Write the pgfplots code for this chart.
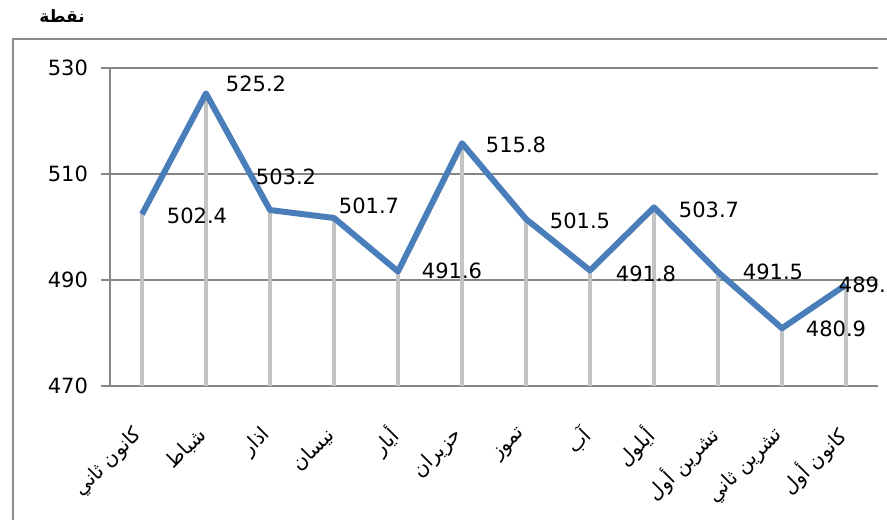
\documentclass[border=0pt]{standalone}
\usepackage{fontspec}
\setmainfont{DejaVu Sans}
\newfontfamily\arabicfont[Script=Arabic]{DejaVu Sans}
\usepackage{pgfplots}
\pgfplotsset{compat=1.18}
\usepackage{pgfplotstable}
\TeXXeTstate=1
\definecolor{lineblue}{RGB}{74,126,187}
\definecolor{gridgray}{RGB}{134,134,134}
\definecolor{dropgray}{RGB}{195,195,195}
\definecolor{framegray}{RGB}{140,140,140}

\pgfplotstableread{
x y e
0 502.4 32.4
1 525.2 55.2
2 503.2 33.2
3 501.7 31.7
4 491.6 21.6
5 515.8 45.8
6 501.5 31.5
7 491.8 21.8
8 503.7 33.7
9 491.5 21.5
10 480.9 10.9
11 489.1 19.1
}\datatable

\begin{document}
\begin{tikzpicture}
\begin{axis}[
  scale only axis,
  width=384pt, height=159pt,
  xmin=-0.5, xmax=11.5, ymin=470, ymax=530,
  ytick={470,490,510,530},
  xtick={0,...,11},
  xticklabels={
    {\arabicfont\beginR كانون ثاني\endR},
    {\arabicfont\beginR شباط\endR},
    {\arabicfont\beginR اذار\endR},
    {\arabicfont\beginR نيسان\endR},
    {\arabicfont\beginR أيار\endR},
    {\arabicfont\beginR حزيران\endR},
    {\arabicfont\beginR تموز\endR},
    {\arabicfont\beginR آب\endR},
    {\arabicfont\beginR أيلول\endR},
    {\arabicfont\beginR تشرين أول\endR},
    {\arabicfont\beginR تشرين ثاني\endR},
    {\arabicfont\beginR كانون أول\endR}},
  axis x line*=bottom, axis y line*=left,
  axis line style={gridgray, line width=0.8pt},
  ymajorgrids, grid style={gridgray, line width=0.8pt},
  tick align=outside, major tick length=4.5pt,
  ytick style={gridgray, line width=0.8pt},
  xtick style={draw=none},
  tick label style={font=\fontsize{10.5}{12}\selectfont, black},
  yticklabel style={xshift=-3pt},
  xticklabel style={xshift=1pt, yshift=-16pt, rotate=45, anchor=east, font=\fontsize{10}{12}\selectfont},
  /pgf/number format/assume math mode=true,
  clip=false,
]
\addplot[draw=none, mark=none, forget plot,
  error bars/.cd, y dir=minus, y explicit,
  error bar style={dropgray, line width=2pt}, error mark=none]
  table[x=x, y=y, y error minus=e] {\datatable};
\addplot[lineblue, line width=3pt, mark=none, line join=round] table[x=x, y=y] {\datatable};
\coordinate (BL) at (axis cs:-0.5,470);
\begin{scope}[every node/.style={font=\fontsize{10.5}{12}\selectfont, inner sep=0pt}]
\node[xshift=27.5pt, yshift=-1pt] at (axis cs:0,502.4) {502.4};
\node[xshift=25pt, yshift=5pt] at (axis cs:1,525.2) {525.2};
\node[xshift=8pt, yshift=16.5pt] at (axis cs:2,503.2) {503.2};
\node[xshift=17.5pt, yshift=6pt] at (axis cs:3,501.7) {501.7};
\node[xshift=27pt, yshift=0.5pt] at (axis cs:4,491.6) {491.6};
\node[xshift=27pt, yshift=-1pt] at (axis cs:5,515.8) {515.8};
\node[xshift=27pt, yshift=-1pt] at (axis cs:6,501.5) {501.5};
\node[xshift=28pt, yshift=-1.5pt] at (axis cs:7,491.8) {491.8};
\node[xshift=27.5pt, yshift=-1pt] at (axis cs:8,503.7) {503.7};
\node[xshift=27.5pt, yshift=0pt] at (axis cs:9,491.5) {491.5};
\node[xshift=27pt, yshift=-0.5pt] at (axis cs:10,480.9) {480.9};
\node[xshift=11.5pt, yshift=0pt] at (axis cs:11,489.1) {489.1};
\end{scope}
\end{axis}
\pgfresetboundingbox
\path[use as bounding box] (BL) ++(-55pt,-66.5pt) coordinate (O) rectangle ++(443.5pt,259.5pt);
\begin{scope}[shift={(O)}, x=1pt, y=1pt]
\draw[framegray, line width=1pt] (6.5,-10) rectangle (460,240);
\node[font=\bfseries\fontsize{8.5}{10}\selectfont] at (31,251.5) {\arabicfont\beginR نقطة\endR};
\end{scope}
\end{tikzpicture}
\end{document}
